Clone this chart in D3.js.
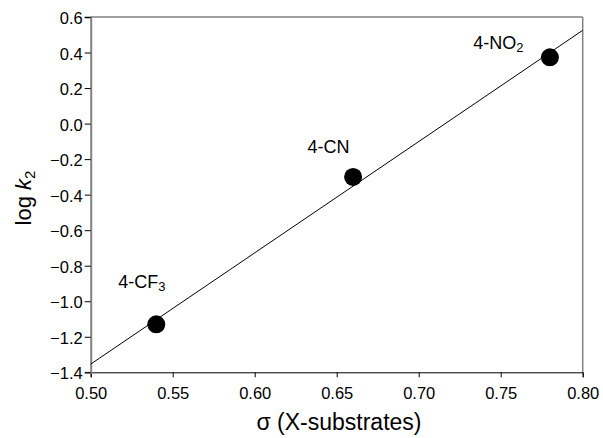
<!DOCTYPE html>
<html lang="en">
<head>
    <meta charset="UTF-8">
    <title>log k2 vs sigma</title>
    <script src="https://d3js.org/d3.v7.min.js"></script>
    <style>
        body { margin: 0; background: #fff; font-family: Arial, "Liberation Sans", sans-serif; }
        .tick text { font-size: 16.5px; fill: #000; font-family: Arial, "Liberation Sans", sans-serif; }
    </style>
</head>
<body>
    <svg width="603" height="438"></svg>
    <script>
        // substituent constants and measured rate constants
        var names = ["4-CF", "4-CN", "4-NO"];
        var subs = ["3", "", "2"];
        var sigma = [0.54, 0.66, 0.78];
        var logk2 = [-1.13, -0.30, 0.373];

        // end points of the fitted line
        var fitX = [0.50, 0.80];
        var fitY = [-1.354, 0.525];

        var xTicks = [0.50, 0.55, 0.60, 0.65, 0.70, 0.75, 0.80];
        var yTicks = [-1.4, -1.2, -1.0, -0.8, -0.6, -0.4, -0.2, 0.0, 0.2, 0.4, 0.6];

        var svg = d3.select("svg");
        var pLeft = 90.7, pRight = 582.7, pTop = 17, pBottom = 372.3;

        var x = d3.scaleLinear().domain([0.5, 0.8]).range([pLeft, pRight]);
        var y = d3.scaleLinear().domain([-1.4, 0.6]).range([pBottom, pTop]);

        var fmt2 = d3.format(".2f"), fmt1 = d3.format(".1f");

        // frame top / right
        svg.append("line").attr("x1", pLeft).attr("x2", pRight).attr("y1", pTop).attr("y2", pTop)
            .attr("stroke", "#808080").attr("stroke-width", 1.5);
        svg.append("line").attr("x1", pRight).attr("x2", pRight).attr("y1", pTop).attr("y2", pBottom)
            .attr("stroke", "#808080").attr("stroke-width", 1.5);

        var xAxis = svg.append("g")
            .attr("transform", "translate(0," + pBottom + ")")
            .call(d3.axisBottom(x).tickValues(xTicks).tickFormat(fmt2).tickSize(5).tickPadding(10));
        xAxis.select(".domain").attr("stroke", "#000").attr("stroke-width", 1);
        xAxis.selectAll(".tick line").attr("stroke", "#000");

        var yAxis = svg.append("g")
            .attr("transform", "translate(" + pLeft + ",0)")
            .call(d3.axisLeft(y).tickValues(yTicks).tickSize(6).tickPadding(2)
                .tickFormat(function(d) { return fmt1(d).replace("-", "\u2212"); }));
        yAxis.select(".domain").attr("stroke", "#808080").attr("stroke-width", 2);
        yAxis.selectAll(".tick line").attr("stroke", "#000");
        yAxis.selectAll(".tick text").attr("dy", "0.4em");

        // fitted line
        svg.append("line")
            .attr("x1", x(fitX[0])).attr("y1", y(fitY[0]))
            .attr("x2", x(fitX[1])).attr("y2", y(fitY[1]))
            .attr("stroke", "#000").attr("stroke-width", 1);

        // points
        svg.append("g").selectAll("circle")
            .data(sigma)
            .enter().append("circle")
            .attr("cx", function(d) { return x(d); })
            .attr("cy", function(d, i) { return y(logk2[i]); })
            .attr("r", 9)
            .attr("fill", "#000");

        // labels, offset from each point
        var offs = [[-38, -36], [-45.5, -24], [-76.6, -8]];
        var lab = svg.append("g").selectAll("text")
            .data(names)
            .enter().append("text")
            .attr("x", function(d, i) { return x(sigma[i]) + offs[i][0]; })
            .attr("y", function(d, i) { return y(logk2[i]) + offs[i][1]; })
            .attr("font-size", 18);
        lab.append("tspan").text(function(d) { return d; });
        lab.append("tspan").attr("font-size", 13).attr("dy", 3)
            .text(function(d, i) { return subs[i]; });

        // axis titles
        svg.append("text")
            .attr("x", 339).attr("y", 430)
            .attr("text-anchor", "middle").attr("font-size", 23)
            .text("\u03c3 (X-substrates)");

        var yt = svg.append("text")
            .attr("transform", "translate(31,198) rotate(-90)")
            .attr("text-anchor", "middle").attr("font-size", 22);
        yt.append("tspan").text("log ");
        yt.append("tspan").attr("font-style", "italic").text("k");
        yt.append("tspan").attr("font-size", 15).attr("dy", 4).text("2");
    </script>
</body>
</html>
